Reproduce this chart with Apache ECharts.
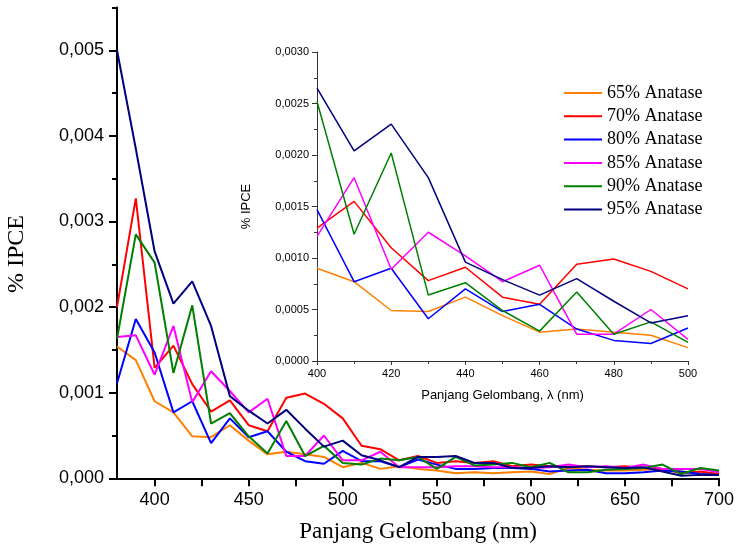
<!DOCTYPE html>
<html>
<head>
<meta charset="utf-8">
<script src="https://cdn.jsdelivr.net/npm/echarts@6/dist/echarts.min.js"></script>
<style>html,body{margin:0;padding:0;background:#fff}#c{width:737px;height:553px}</style>
</head>
<body>
<div id="c"></div>
<script>
const wavelengths = [380,390,400,410,420,430,440,450,460,470,480,490,500,510,520,530,540,550,560,570,580,590,600,610,620,630,640,650,660,670,680,690,700];
const seriesNames = ['65% Anatase','70% Anatase','80% Anatase','85% Anatase','90% Anatase','95% Anatase'];
const colors = ['#FF8000','#FF0000','#0000FF','#FF00FF','#008000','#000080'];
const anatase65 = [0.00154,0.00138,0.00090,0.00077,0.00049,0.00048,0.00062,0.00044,0.00028,0.00031,0.00028,0.00025,0.00013,0.00018,0.00011,0.00014,0.00011,0.00009,0.00006,0.00007,0.00006,0.00007,0.00008,0.00005,0.00012,0.00010,0.00009,0.00009,0.00010,0.00011,0.00008,0.00006,0.00005];
const anatase70 = [0.00200,0.00327,0.00129,0.00155,0.00110,0.00078,0.00091,0.00062,0.00055,0.00094,0.00099,0.00087,0.00070,0.00038,0.00034,0.00021,0.00026,0.00018,0.00020,0.00018,0.00020,0.00014,0.00016,0.00014,0.00013,0.00014,0.00013,0.00014,0.00012,0.00011,0.00006,0.00008,0.00005];
const anatase80 = [0.00111,0.00186,0.00147,0.00077,0.00090,0.00041,0.00070,0.00048,0.00055,0.00031,0.00020,0.00017,0.00032,0.00020,0.00020,0.00013,0.00022,0.00016,0.00011,0.00011,0.00012,0.00012,0.00011,0.00008,0.00009,0.00010,0.00006,0.00006,0.00007,0.00009,0.00008,0.00005,0.00004];
const anatase85 = [0.00165,0.00167,0.00121,0.00178,0.00089,0.00125,0.00102,0.00077,0.00093,0.00026,0.00026,0.00050,0.00021,0.00021,0.00031,0.00013,0.00013,0.00013,0.00014,0.00014,0.00013,0.00013,0.00012,0.00013,0.00016,0.00013,0.00014,0.00012,0.00016,0.00011,0.00011,0.00011,0.00007];
const anatase90 = [0.00163,0.00285,0.00252,0.00123,0.00202,0.00064,0.00076,0.00049,0.00029,0.00067,0.00026,0.00038,0.00018,0.00016,0.00023,0.00021,0.00025,0.00011,0.00025,0.00015,0.00016,0.00018,0.00013,0.00018,0.00007,0.00007,0.00010,0.00011,0.00012,0.00016,0.00005,0.00012,0.00009];
const anatase95 = [0.00500,0.00385,0.00265,0.00204,0.00230,0.00178,0.00096,0.00079,0.00064,0.00080,0.00058,0.00037,0.00044,0.00027,0.00021,0.00013,0.00025,0.00025,0.00026,0.00018,0.00018,0.00012,0.00012,0.00014,0.00013,0.00014,0.00013,0.00012,0.00013,0.00008,0.00003,0.00004,0.00004];
const mainXTicks = [400,425,450,475,500,525,550,575,600,625,650,675,700];
const mainXLabels = [400,450,500,550,600,650,700];
const mainYLabels = [0,0.001,0.002,0.003,0.004,0.005];

const allValues = [anatase65, anatase70, anatase80, anatase85, anatase90, anatase95];

const chart = echarts.init(document.getElementById('c'), null, {renderer:'canvas'});
const series = [];
allValues.forEach((vals, k) => {
  series.push({
    name: seriesNames[k], type: 'line', xAxisIndex: 0, yAxisIndex: 0,
    symbol: 'none', color: colors[k], lineStyle: {width: 2, color: colors[k]},
    data: wavelengths.map((w, i) => [w, vals[i]])
  });
});
allValues.forEach((vals, k) => {
  series.push({
    name: seriesNames[k], type: 'line', xAxisIndex: 1, yAxisIndex: 2,
    symbol: 'none', color: colors[k], lineStyle: {width: 1.5, color: colors[k]},
    data: wavelengths.map((w, i) => [w, vals[i]]).filter(p => p[0] >= 400 && p[0] <= 500)
  });
});

const sans = 'Liberation Sans';
const serif = 'Liberation Serif';
chart.setOption({
  animation: false,
  backgroundColor: '#fff',
  grid: [
    {left: 117, top: 7.5, right: 17, bottom: 74.7},
    {left: 317, top: 52, right: 49, bottom: 192}
  ],
  legend: {
    data: seriesNames, orient: 'vertical', left: 564, top: 84,
    icon: 'rect', itemWidth: 38, itemHeight: 2, itemGap: 5.3, padding: 0,
    textStyle: {fontFamily: serif, fontSize: 18, color: '#000', lineHeight: 18}
  },
  xAxis: [
    {
      type: 'value', gridIndex: 0, min: 380, max: 700,
      axisLine: {lineStyle: {color: '#000', width: 2}},
      axisTick: {customValues: mainXTicks, length: 8, lineStyle: {color: '#000', width: 2}},
      axisLabel: {customValues: mainXLabels, fontFamily: sans, fontSize: 18, color: '#000', margin: 13},
      splitLine: {show: false},
      name: 'Panjang Gelombang (nm)', nameLocation: 'middle', nameGap: 42,
      nameTextStyle: {fontFamily: serif, fontSize: 23, color: '#000'}
    },
    {
      type: 'value', gridIndex: 1, min: 400, max: 500, interval: 20,
      axisLine: {lineStyle: {color: '#333', width: 1}},
      axisTick: {length: 4, lineStyle: {color: '#333'}},
      minorTick: {show: true, splitNumber: 2, length: 3, lineStyle: {color: '#333'}},
      axisLabel: {fontFamily: sans, fontSize: 11, color: '#000', margin: 7},
      splitLine: {show: false},
      name: 'Panjang Gelombang, λ (nm)', nameLocation: 'middle', nameGap: 28,
      nameTextStyle: {fontFamily: sans, fontSize: 13, color: '#000'}
    }
  ],
  yAxis: [
    {
      type: 'value', gridIndex: 0, min: 0, max: 0.0055, position: 'left',
      axisLine: {show: true, lineStyle: {color: '#000', width: 2}},
      axisTick: {show: true, customValues: mainYLabels, length: 8, lineStyle: {color: '#000', width: 2}},
      axisLabel: {customValues: mainYLabels, fontFamily: sans, fontSize: 18, color: '#000', margin: 13,
        formatter: v => v.toFixed(3).replace('.', ',')},
      splitLine: {show: false}
    },
    {
      type: 'value', gridIndex: 0, min: 0, max: 0.0055, interval: 0.0005, position: 'left', offset: 0,
      axisLine: {show: false},
      axisTick: {show: true, length: 5, lineStyle: {color: '#000', width: 2}},
      axisLabel: {show: false},
      splitLine: {show: false}
    },
    {
      type: 'value', gridIndex: 1, min: 0, max: 0.003, interval: 0.0005,
      axisLine: {show: true, lineStyle: {color: '#333', width: 1}},
      axisTick: {show: true, length: 5, lineStyle: {color: '#333'}},
      minorTick: {show: true, splitNumber: 2, length: 3, lineStyle: {color: '#333'}},
      axisLabel: {fontFamily: sans, fontSize: 11, color: '#000', margin: 8,
        formatter: v => v.toFixed(4).replace('.', ',')},
      splitLine: {show: false},
      name: '% IPCE', nameLocation: 'middle', nameGap: 64,
      nameTextStyle: {fontFamily: sans, fontSize: 13, color: '#000'}
    }
  ],
  graphic: [
    {
      type: 'text', x: 17, y: 254, rotation: Math.PI / 2,
      style: {text: '% IPCE', font: '24px "Liberation Serif"', fill: '#000', align: 'center', verticalAlign: 'middle'}
    }
  ],
  series: series
});
</script>
</body>
</html>
